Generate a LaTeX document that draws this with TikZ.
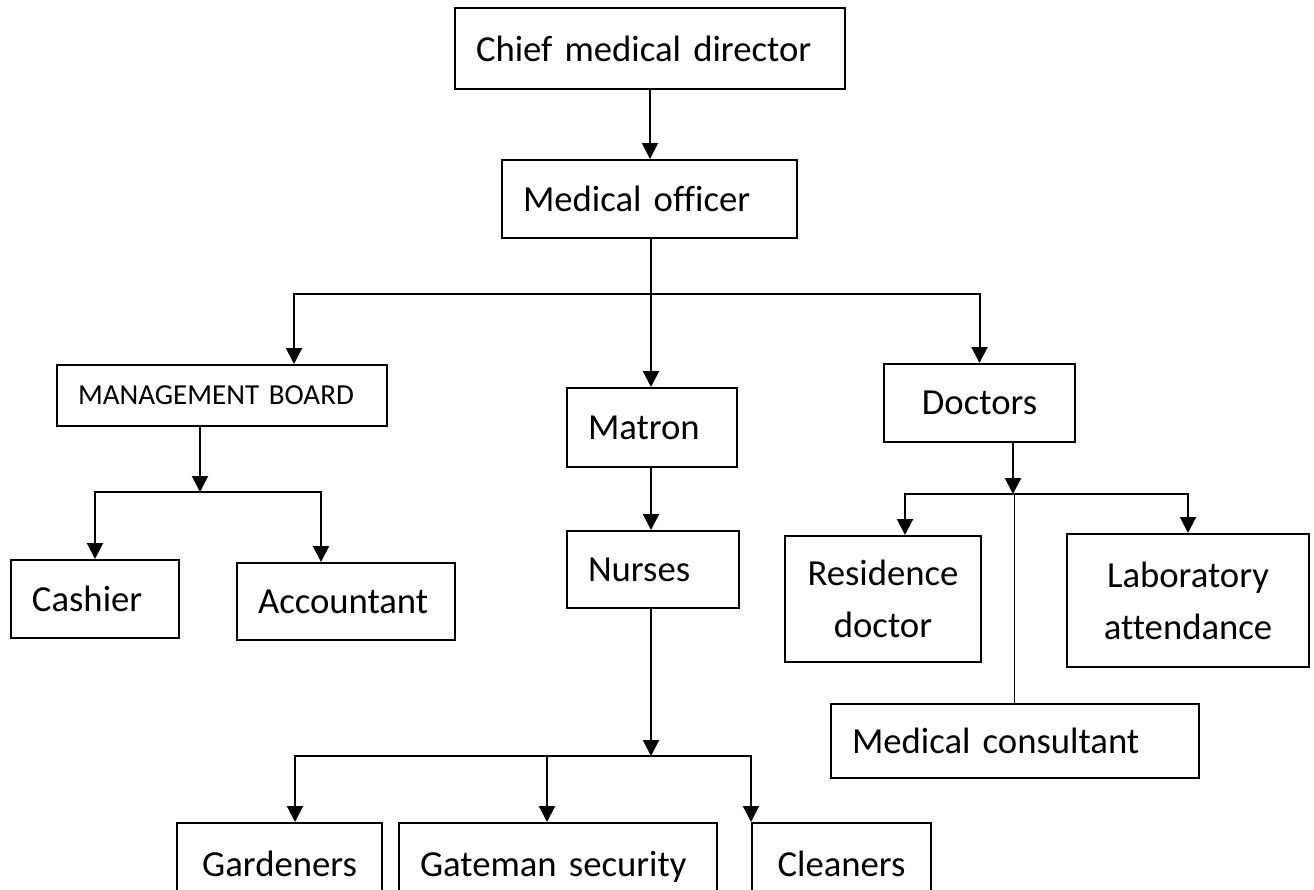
\documentclass[tikz,border=0pt]{standalone}
\usepackage{fontspec}
\setmainfont{Carlito}[Ligatures=NoCommon]
\usepackage{tikz}
\usetikzlibrary{arrows.meta,positioning}
\newcommand{\rolefont}{\fontsize{18.35pt}{26pt}\selectfont}
\newcommand{\boardfont}{\fontsize{14.5pt}{17pt}\selectfont}
\tikzset{
  rolebox/.style={
    rectangle, draw, line width=1pt, inner sep=0pt,
    font=\rolefont, align=center
  },
  padded/.style={rolebox, align=left, inner xsep=10.5pt},
  arrow/.style={-{Triangle[width=8pt,length=8pt]}, line width=1pt},
  plain/.style={line width=1pt},
  link/.style={line width=0.5pt},
}

\begin{document}
\begin{tikzpicture}[x=0.5pt, y=-0.5pt]
  \useasboundingbox (0,0) rectangle (1314,890);

  % Top chain
  \node[padded, text width=174pt, minimum height=40.5pt] (chief) at (650,48.5)
    {Chief medical director};
  \node[padded, text width=126.5pt, minimum height=39pt] (officer) at (649.5,199)
    {Medical officer};

  % Three departments
  \node[padded, text width=144pt, minimum height=30.5pt, font=\boardfont] (board)
    at (222,395.5) {MANAGEMENT BOARD};
  \node[padded, text width=64pt, minimum height=39.5pt] (matron) at (652,427.5)
    {Matron};
  \node[rolebox, minimum width=95.5pt, minimum height=39pt] (doctors) at (979.5,403)
    {Doctors};

  % Under the board
  \node[padded, text width=63pt, minimum height=39pt] (cashier) at (95,599)
    {Cashier};
  \node[padded, text width=88pt, minimum height=38.5pt] (accountant) at (346,601.5)
    {Accountant};

  % Under the matron
  \node[padded, text width=65pt, minimum height=38.5pt] (nurses) at (653,569.5)
    {Nurses};
  \node[rolebox, minimum width=102.5pt, minimum height=41pt] (gardeners) at (279.5,864)
    {Gardeners};
  \node[padded, text width=138pt, minimum height=41pt, text depth=0pt] (gateman)
    at (558,864) {Gateman security};
  \node[rolebox, minimum width=89.5pt, minimum height=41pt] (cleaners) at (841.5,864)
    {Cleaners};

  % Under the doctors
  \node[rolebox, minimum width=98pt, minimum height=63pt] (residence) at (883,599)
    {Residence\\doctor};
  \node[rolebox, minimum width=121pt, minimum height=66.5pt] (laboratory) at (1188,600.5)
    {Laboratory\\attendance};
  \node[padded, text width=163pt, minimum height=37pt] (consultant) at (1015,741)
    {Medical consultant};

  % Junction points
  \coordinate (topbar) at (651,294);
  \coordinate (boardin) at ([xshift=36pt]board.north);
  \coordinate (boardout) at ([xshift=-11pt]board.south);
  \coordinate (boardbar) at (200,492);
  \coordinate (accin) at ([xshift=-12.5pt]accountant.north);
  \coordinate (nursebar) at (651,756);
  \coordinate (gardin) at ([xshift=7.75pt]gardeners.north);
  \coordinate (gatein) at ([xshift=-5.5pt]gateman.north);
  \coordinate (cleanin) at (cleaners.north west);
  \coordinate (docout) at ([xshift=16.75pt]doctors.south);
  \coordinate (docbar) at (1014,494);
  \coordinate (resin) at ([xshift=11pt]residence.north);

  % Arrows -- top chain
  \draw[arrow] (chief.south) -- (chief.south |- officer.north);
  \draw[plain] (officer.south -| topbar) -- (topbar);
  \draw[arrow] (topbar) -| (boardin);
  \draw[arrow] (topbar) -- (topbar |- matron.north);
  \draw[arrow] (topbar) -| (doctors.north);

  % Board branch
  \draw[arrow] (boardout) -- (boardbar);
  \draw[arrow] (boardbar) -| (cashier.north);
  \draw[arrow] (boardbar) -| (accin);

  % Matron branch
  \draw[arrow] (matron.south -| topbar) -- (topbar |- nurses.north);
  \draw[arrow] (nurses.south -| nursebar) -- (nursebar);
  \draw[arrow] (nursebar) -| (gardin);
  \draw[arrow] (gatein |- nursebar) -- (gatein);
  \draw[arrow] (nursebar) -| (cleanin);

  % Doctors branch
  \draw[arrow] (docout) -- (docout |- docbar);
  \draw[arrow] (docbar) -| (resin);
  \draw[arrow] (docbar) -| (laboratory.north);
  \draw[link] (docbar) -- (docbar |- consultant.north);
\end{tikzpicture}
\end{document}
